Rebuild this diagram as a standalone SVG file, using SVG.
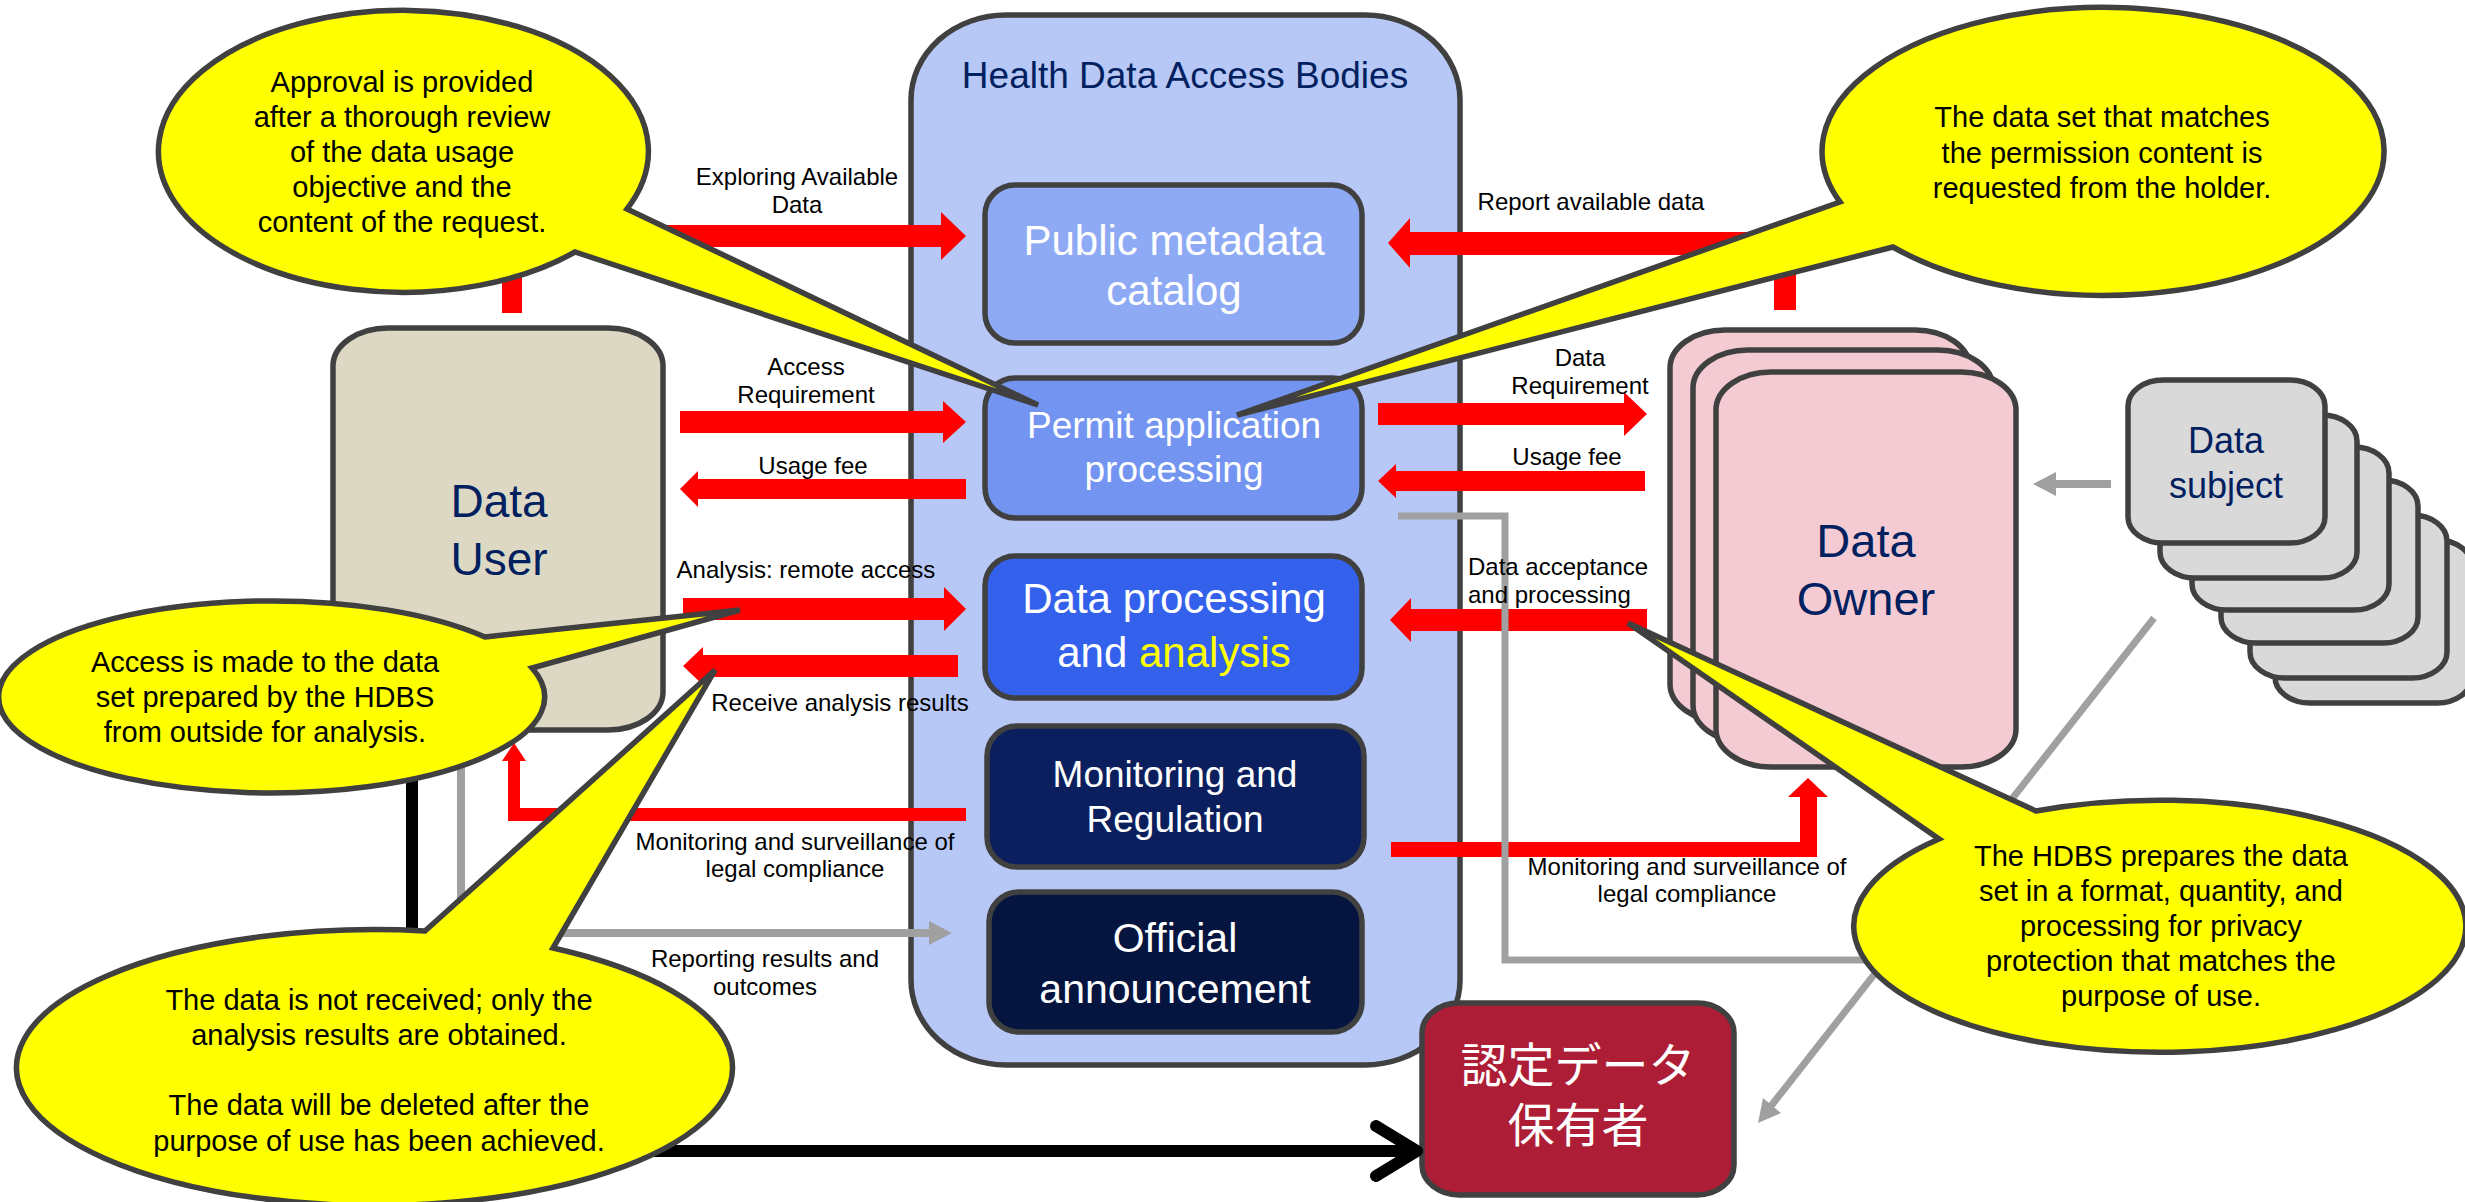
<svg xmlns="http://www.w3.org/2000/svg" width="2465" height="1202" viewBox="0 0 2465 1202">
<style>
text{font-family:"Liberation Sans",Arial,"Noto Sans CJK JP",sans-serif;}
.box{stroke:#404040;stroke-width:5.5;}
.lbl{font-size:24px;fill:#000;text-anchor:middle;}
.lbs{font-size:24px;fill:#000;text-anchor:start;}
.bt{font-size:29px;fill:#000;text-anchor:middle;}
.wt{fill:#fff;text-anchor:middle;}
.nv{fill:#002060;text-anchor:middle;}
.red{fill:#ff0000;}
.gl{fill:none;stroke:#a0a0a0;}
.gh{fill:#a0a0a0;}
.balloon{fill:#ffff00;stroke:#404040;stroke-width:5.5;stroke-linejoin:miter;}
</style>
<rect width="2465" height="1202" fill="#fff"/>

<g id="hdab">
<rect class="box" x="911" y="15" width="549" height="1050" rx="95" ry="85" fill="#b7c8f6"/>
<text class="nv" x="1185" y="88" font-size="37">Health Data Access Bodies</text>
</g>
<g id="public-metadata">
<rect class="box" x="985" y="185" width="377" height="158" rx="30" fill="#8eaaf4"/>
<text class="wt" font-size="42"><tspan x="1174" y="255">Public metadata</tspan><tspan x="1174" y="305">catalog</tspan></text>
</g>
<g id="permit">
<rect class="box" x="985" y="378" width="377" height="140" rx="30" fill="#7394f0"/>
<text class="wt" font-size="37"><tspan x="1174" y="438">Permit application</tspan><tspan x="1174" y="482">processing</tspan></text>
</g>
<g id="data-processing">
<rect class="box" x="985" y="556" width="377" height="142" rx="30" fill="#3461ec"/>
<text class="wt" font-size="42"><tspan x="1174" y="613">Data processing</tspan><tspan x="1174" y="667">and <tspan fill="#ffff00">analysis</tspan></tspan></text>
</g>
<g id="monitoring">
<rect class="box" x="987" y="726" width="377" height="141" rx="30" fill="#0b1f5e"/>
<text class="wt" font-size="37"><tspan x="1175" y="787">Monitoring and</tspan><tspan x="1175" y="832">Regulation</tspan></text>
</g>
<g id="official">
<rect class="box" x="989" y="892" width="373" height="140" rx="30" fill="#06153f"/>
<text class="wt" font-size="41"><tspan x="1175" y="952">Official</tspan><tspan x="1175" y="1003">announcement</tspan></text>
</g>

<g id="data-user">
<rect class="box" x="333" y="328" width="330" height="402" rx="55" ry="38" fill="#ddd8c4"/>
<text class="nv" font-size="46"><tspan x="499" y="517">Data</tspan><tspan x="499" y="575">User</tspan></text>
</g>

<g id="data-owner">
<rect class="box" x="1670" y="330" width="300" height="392" rx="55" ry="38" fill="#f4cbd2"/>
<rect class="box" x="1693" y="350" width="300" height="393" rx="55" ry="38" fill="#f4cbd2"/>
<rect class="box" x="1716" y="372" width="300" height="395" rx="55" ry="38" fill="#f4cbd2"/>
<text class="nv" font-size="47"><tspan x="1866" y="557">Data</tspan><tspan x="1866" y="615">Owner</tspan></text>
</g>

<g id="data-subject">
<rect class="box" x="2275" y="540" width="197" height="163" rx="35" ry="26" fill="#d9d9d9"/>
<rect class="box" x="2250" y="515" width="197" height="163" rx="35" ry="26" fill="#d9d9d9"/>
<rect class="box" x="2221" y="480" width="197" height="163" rx="35" ry="26" fill="#d9d9d9"/>
<rect class="box" x="2192" y="447" width="197" height="163" rx="35" ry="26" fill="#d9d9d9"/>
<rect class="box" x="2160" y="415" width="197" height="163" rx="35" ry="26" fill="#d9d9d9"/>
<rect class="box" x="2128" y="380" width="197" height="163" rx="35" ry="26" fill="#d9d9d9"/>
<text class="nv" font-size="36"><tspan x="2226" y="453">Data</tspan><tspan x="2226" y="498">subject</tspan></text>
</g>

<g id="certified-holder">
<rect class="box" x="1422" y="1003" width="312" height="192" rx="37" ry="30" fill="#ad1e36"/>
<text class="wt" font-size="47" style="font-family:'Noto Sans CJK JP',sans-serif"><tspan x="1578" y="1082">認定データ</tspan><tspan x="1578" y="1142">保有者</tspan></text>
</g>

<g id="connectors">
<polygon class="red" points="502,313 502,225 941,225 941,212 966,236 941,260 941,247 522,247 522,313"/>
<polygon class="red" points="680,411 943,411 943,401 966,422 943,443 943,433 680,433"/>
<polygon class="red" points="966,479 698,479 698,471 680,489 698,507 698,499 966,499"/>
<polygon class="red" points="683,598 944,598 944,587 966,609 944,631 944,620 683,620"/>
<polygon class="red" points="958,655 703,655 703,647 683,666 703,685 703,677 958,677"/>
<polygon class="red" points="966,808 520,808 520,761 526,761 514,743 502,761 508,761 508,821 966,821"/>
<polygon class="red" points="1774,310 1774,255 1410,255 1410,268 1388,243 1410,218 1410,232 1796,232 1796,310"/>
<polygon class="red" points="1378,403 1624,403 1624,392 1647,414 1624,436 1624,425 1378,425"/>
<polygon class="red" points="1645,471 1396,471 1396,464 1378,481 1396,498 1396,491 1645,491"/>
<polygon class="red" points="1647,609 1411,609 1411,598 1390,620 1411,642 1411,631 1647,631"/>
<polygon class="red" points="1391,842 1800,842 1800,797 1788,797 1808,778 1828,797 1817,797 1817,857 1391,857"/>

<polyline class="gl" points="461,730 461,933 930,933" stroke-width="8"/>
<polygon class="gh" points="929,921 952,933 929,945"/>
<polyline class="gl" points="1398,516 1505,516 1505,960 1887,960" stroke-width="7"/>
<line class="gl" x1="2154" y1="618" x2="1771" y2="1106" stroke-width="7"/>
<polygon class="gh" points="1758,1123 1781,1113 1763,1098"/>
<line class="gl" x1="2111" y1="484" x2="2054" y2="484" stroke-width="8"/>
<polygon class="gh" points="2056,472 2033,484 2056,496"/>

<polyline points="412,730 412,1151 1410,1151" fill="none" stroke="#000" stroke-width="12"/>
<polyline points="1376,1126 1417,1151 1376,1176" fill="none" stroke="#000" stroke-width="12" stroke-linecap="round" stroke-linejoin="round"/>

<text class="lbl"><tspan x="797" y="185">Exploring Available</tspan><tspan x="797" y="213">Data</tspan></text>
<text class="lbl"><tspan x="806" y="375">Access</tspan><tspan x="806" y="403">Requirement</tspan></text>
<text class="lbl" x="813" y="474">Usage fee</text>
<text class="lbl" x="806" y="578">Analysis: remote access</text>
<text class="lbl" x="840" y="711" font-size="23.5">Receive analysis results</text>
<text class="lbl"><tspan x="795" y="850">Monitoring and surveillance of</tspan><tspan x="795" y="877">legal compliance</tspan></text>
<text class="lbl"><tspan x="765" y="967">Reporting results and</tspan><tspan x="765" y="995">outcomes</tspan></text>
<text class="lbl" x="1591" y="210">Report available data</text>
<text class="lbl"><tspan x="1580" y="366">Data</tspan><tspan x="1580" y="394">Requirement</tspan></text>
<text class="lbl" x="1567" y="465">Usage fee</text>
<text class="lbs"><tspan x="1468" y="575">Data acceptance</tspan><tspan x="1468" y="603">and processing</tspan></text>
<text class="lbl"><tspan x="1687" y="875">Monitoring and surveillance of</tspan><tspan x="1687" y="902">legal compliance</tspan></text>
</g>

<g id="callout-approval">
<path class="balloon" d="M627,209 L1038,405 L575,252 A245 141 0 1 1 627,209 Z"/>
<text class="bt"><tspan x="402" y="92">Approval is provided</tspan><tspan x="402" y="127">after a thorough review</tspan><tspan x="402" y="162">of the data usage</tspan><tspan x="402" y="197">objective and the</tspan><tspan x="402" y="232">content of the request.</tspan></text>
</g>
<g id="callout-request">
<path class="balloon" d="M1840,202 L1237,415 L1893,247 A281 144 0 1 0 1840,202 Z"/>
<text class="bt"><tspan x="2102" y="127">The data set that matches</tspan><tspan x="2102" y="163">the permission content is</tspan><tspan x="2102" y="198">requested from the holder.</tspan></text>
</g>
<g id="callout-access">
<path class="balloon" d="M485,637 L740,610 L532,668 A273 96 0 1 1 485,637 Z"/>
<text class="bt"><tspan x="265" y="672">Access is made to the data</tspan><tspan x="265" y="707">set prepared by the HDBS</tspan><tspan x="265" y="742">from outside for analysis.</tspan></text>
</g>
<g id="callout-results">
<path class="balloon" d="M425,931 L715,670 L553,948 A358 138 0 1 1 425,931 Z"/>
<text class="bt"><tspan x="379" y="1010">The data is not received; only the</tspan><tspan x="379" y="1045">analysis results are obtained.</tspan><tspan x="379" y="1115">The data will be deleted after the</tspan><tspan x="379" y="1151">purpose of use has been achieved.</tspan></text>
</g>
<g id="callout-hdbs">
<path class="balloon" d="M2036,811 L1628,623 L1939,839 A306 126 0 1 0 2036,811 Z"/>
<text class="bt"><tspan x="2161" y="866">The HDBS prepares the data</tspan><tspan x="2161" y="901">set in a format, quantity, and</tspan><tspan x="2161" y="936">processing for privacy</tspan><tspan x="2161" y="971">protection that matches the</tspan><tspan x="2161" y="1006">purpose of use.</tspan></text>
</g>
</svg>
